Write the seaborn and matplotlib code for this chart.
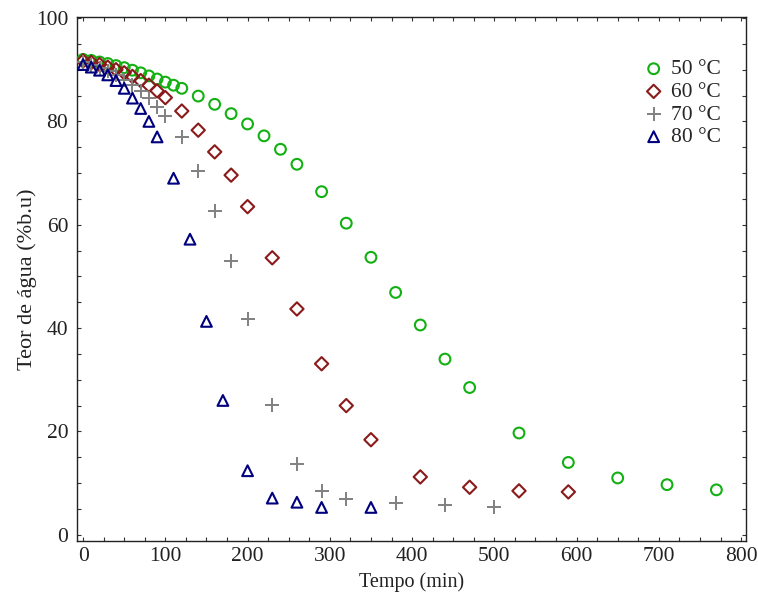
import matplotlib
matplotlib.use("Agg")
import matplotlib.pyplot as plt
from matplotlib.ticker import MultipleLocator
import seaborn as sns
import pandas as pd

# Drying curves: moisture content (% wet basis) versus time at four temperatures
t_50 = [0, 10, 20, 30, 40, 50, 60, 70, 80, 90, 100, 110, 120, 140, 160, 180, 200,
        220, 240, 260, 290, 320, 350, 380, 410, 440, 470, 530, 590, 650, 710, 770]
u_50 = [92.0, 91.8, 91.5, 91.2, 90.8, 90.4, 89.9, 89.4, 88.8, 88.2, 87.6, 87.0,
        86.4, 84.9, 83.3, 81.5, 79.5, 77.2, 74.6, 71.7, 66.4, 60.3, 53.7, 46.9,
        40.6, 34.0, 28.5, 19.7, 14.0, 11.0, 9.7, 8.7]

t_60 = [0, 10, 20, 30, 40, 50, 60, 70, 80, 90, 100, 120, 140, 160, 180, 200, 230,
        260, 290, 320, 350, 410, 470, 530, 590]
u_60 = [91.7, 91.4, 91.0, 90.5, 90.0, 89.4, 88.7, 87.9, 87.0, 85.9, 84.6, 82.0,
        78.3, 74.1, 69.6, 63.5, 53.6, 43.7, 33.1, 25.0, 18.4, 11.2, 9.2, 8.5, 8.3]

t_70 = [0, 10, 20, 30, 40, 50, 60, 70, 80, 90, 100, 120, 140, 160, 180, 200, 230,
        260, 290, 320, 380, 440, 500]
u_70 = [91.5, 91.0, 90.4, 89.7, 88.9, 88.0, 87.0, 85.8, 84.5, 82.8, 81.1, 76.9,
        70.4, 62.7, 52.9, 41.7, 25.1, 13.7, 8.5, 7.0, 6.2, 5.7, 5.3]

t_80 = [0, 10, 20, 30, 40, 50, 60, 70, 80, 90, 110, 130, 150, 170, 200, 230, 260,
        290, 350]
u_80 = [91.0, 90.5, 89.9, 89.0, 87.9, 86.4, 84.5, 82.5, 80.0, 77.0, 69.0, 57.2,
        41.3, 26.0, 12.4, 7.1, 6.3, 5.3, 5.3]

labels = ["50 °C", "60 °C", "70 °C", "80 °C"]
colors = ["#12B012", "#8B1A1A", "#808080", "#00007F"]
markers = ["o", "D", "+", "^"]
sizes = [60, 46, 95, 60]

x_ticks = [0, 100, 200, 300, 400, 500, 600, 700, 800]
y_ticks = [0, 20, 40, 60, 80, 100]

frames = []
for lab, t, u in zip(labels, [t_50, t_60, t_70, t_80], [u_50, u_60, u_70, u_80]):
    frames.append(pd.DataFrame({"Tempo": t, "Teor": u, "Temp": lab}))
df = pd.concat(frames, ignore_index=True)

sns.set_style("ticks")
plt.rcParams["font.family"] = ["Liberation Serif", "DejaVu Serif"]

fig = plt.figure(figsize=(7.58, 5.97), dpi=100)
ax = fig.add_axes([76.5 / 758, 56 / 597, (746 - 76.5) / 758, (541 - 17) / 597])

for lab, col, mk, sz in zip(labels, colors, markers, sizes):
    sub = df[df["Temp"] == lab]
    if mk == "+":
        sns.scatterplot(data=sub, x="Tempo", y="Teor", marker=mk, s=sz,
                        color=col, linewidth=1.4, ax=ax, label=lab, zorder=3)
    else:
        sns.scatterplot(data=sub, x="Tempo", y="Teor", marker=mk, s=sz,
                        color=col, facecolor="none", edgecolor=col,
                        linewidth=1.5, ax=ax, label=lab, zorder=3)

ax.set_xlim(-8, 806)
ax.set_ylim(-1.2, 100.2)
ax.set_xticks(x_ticks)
ax.set_yticks(y_ticks)
ax.xaxis.set_minor_locator(MultipleLocator(25))
ax.yaxis.set_minor_locator(MultipleLocator(5))
ax.tick_params(which="both", direction="in", top=True, right=True,
               length=3, width=0.8, color="#333333")
ax.tick_params(axis="both", which="major", labelsize=15.5, labelcolor="#222222")
ax.tick_params(axis="x", which="major", pad=4)
ax.tick_params(axis="y", which="major", pad=6)
for sp in ax.spines.values():
    sp.set_linewidth(1.0)
    sp.set_color("#222222")

ax.set_xlabel("Tempo (min)", fontsize=14.5, color="#222222", labelpad=5)
ax.set_ylabel("Teor de água (%b.u)", fontsize=16, color="#222222", labelpad=-1)

ax.legend(loc="upper right", bbox_to_anchor=(0.985, 0.948), frameon=False,
          fontsize=15.5, handletextpad=0.25, labelspacing=0.12, borderpad=0.2,
          markerscale=1.0, handlelength=1.1)

fig.savefig("out.png", dpi=100)
